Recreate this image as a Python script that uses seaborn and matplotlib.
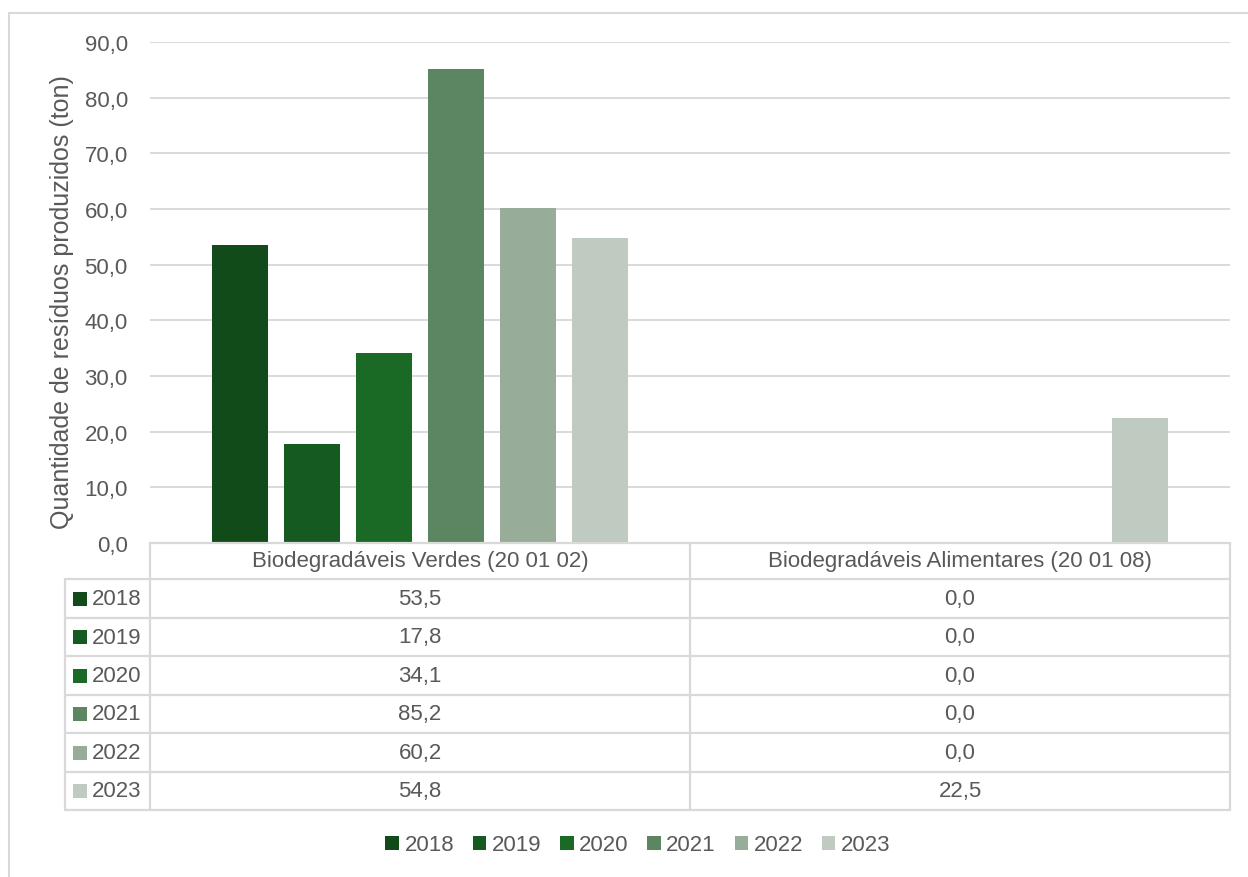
import matplotlib
matplotlib.use("Agg")
import matplotlib.pyplot as plt
import seaborn as sns
import pandas as pd
from matplotlib.lines import Line2D
from matplotlib.patches import Rectangle

# ---- data ----
categories = ["Biodegradáveis Verdes (20 01 02)", "Biodegradáveis Alimentares (20 01 08)"]
years = ["2018", "2019", "2020", "2021", "2022", "2023"]
verdes = [53.5, 17.8, 34.1, 85.2, 60.2, 54.8]
alimentares = [0.0, 0.0, 0.0, 0.0, 0.0, 22.5]
y_ticks = [0, 10, 20, 30, 40, 50, 60, 70, 80, 90]
y_label = "Quantidade de resíduos produzidos (ton)"

colors = ["#104b19", "#155a20", "#1a6a25", "#5c8562", "#98ad99", "#bfcac0"]
text_color = "#595959"
grid_color = "#d9d9d9"

rows = []
for yr, v, a in zip(years, verdes, alimentares):
    rows.append({"cat": categories[0], "year": yr, "val": v})
    rows.append({"cat": categories[1], "year": yr, "val": a})
df = pd.DataFrame(rows)

sns.set_theme(style="white")
plt.rcParams["font.family"] = ["Liberation Sans", "DejaVu Sans"]

FS = 16

W, H = 1248, 878
fig = plt.figure(figsize=(W / 100, H / 100), dpi=100)


def fx(px):
    return px / W


def fy(py):
    return 1 - py / H


ax_l, ax_r, ax_t, ax_b = 150, 1230, 43, 544
ax = fig.add_axes([fx(ax_l), fy(ax_b), fx(ax_r - ax_l), (ax_b - ax_t) / H])

sns.barplot(data=df, x="cat", y="val", hue="year", order=categories,
            hue_order=years, palette=colors, saturation=1, width=0.8, gap=0.21,
            linewidth=0, ax=ax, legend=True)

ax.set_ylim(0, 90)
ax.set_xlim(-0.5, 1.5)
ax.set_yticks(y_ticks)
ax.set_yticklabels([f"{t:.1f}".replace(".", ",") for t in y_ticks])
ax.tick_params(axis="y", length=0, pad=16, labelsize=FS, labelcolor=text_color)
ax.set_xticks([])
ax.set_xlabel("")
ax.set_ylabel("")
for s in ax.spines.values():
    s.set_visible(False)
ax.yaxis.grid(True, color=grid_color, linewidth=1.4)
ax.set_axisbelow(True)

handles, labels = ax.get_legend_handles_labels()
ax.get_legend().remove()

fig.text(fx(62), fy(302), y_label, rotation=90, ha="center", va="center",
         fontsize=18, color=text_color)

# ---- outer frame ----
fig.add_artist(Line2D([fx(9), fx(W + 5)], [fy(14), fy(14)], color=grid_color, lw=1.5))
fig.add_artist(Line2D([fx(9), fx(9)], [fy(14), fy(H + 5)], color=grid_color, lw=1.5))

# ---- data table ----
tbl_lc = 65
col_x = [150, 690, 1230]
row_y = [544, 580, 619, 657, 696, 734, 773, 811]


def hline(x0, x1, y):
    fig.add_artist(Line2D([fx(x0), fx(x1)], [fy(y), fy(y)], color=grid_color, lw=1.6))


def vline(x, y0, y1):
    fig.add_artist(Line2D([fx(x), fx(x)], [fy(y0), fy(y1)], color=grid_color, lw=1.6))


hline(col_x[0], col_x[2], row_y[0])
for y in row_y[1:]:
    hline(tbl_lc, col_x[2], y)
vline(tbl_lc, row_y[1], row_y[-1])
for x in col_x:
    vline(x, row_y[0], row_y[-1])

for ci, cat in enumerate(categories):
    cx = (col_x[ci] + col_x[ci + 1]) / 2
    fig.text(fx(cx), fy((row_y[0] + row_y[1]) / 2), cat, ha="center", va="center",
             fontsize=FS, color=text_color)

for ri, yr in enumerate(years):
    cy = (row_y[ri + 1] + row_y[ri + 2]) / 2
    fig.add_artist(Rectangle((fx(73), fy(cy + 7)), fx(14), 14 / H,
                             facecolor=colors[ri], edgecolor="none"))
    fig.text(fx(92), fy(cy), yr, ha="left", va="center", fontsize=FS, color=text_color)
    for ci, vals in enumerate([verdes, alimentares]):
        cx = (col_x[ci] + col_x[ci + 1]) / 2
        fig.text(fx(cx), fy(cy), f"{vals[ri]:.1f}".replace(".", ","), ha="center",
                 va="center", fontsize=FS, color=text_color)

# ---- bottom legend ----
leg = fig.legend(handles, labels, loc="center", bbox_to_anchor=(fx(638), fy(846)),
                 ncol=6, frameon=False, fontsize=FS, handlelength=0.6,
                 handleheight=0.6, handletextpad=0.25, columnspacing=0.85,
                 labelcolor=text_color)

fig.savefig("out.png", dpi=100, facecolor="white")
